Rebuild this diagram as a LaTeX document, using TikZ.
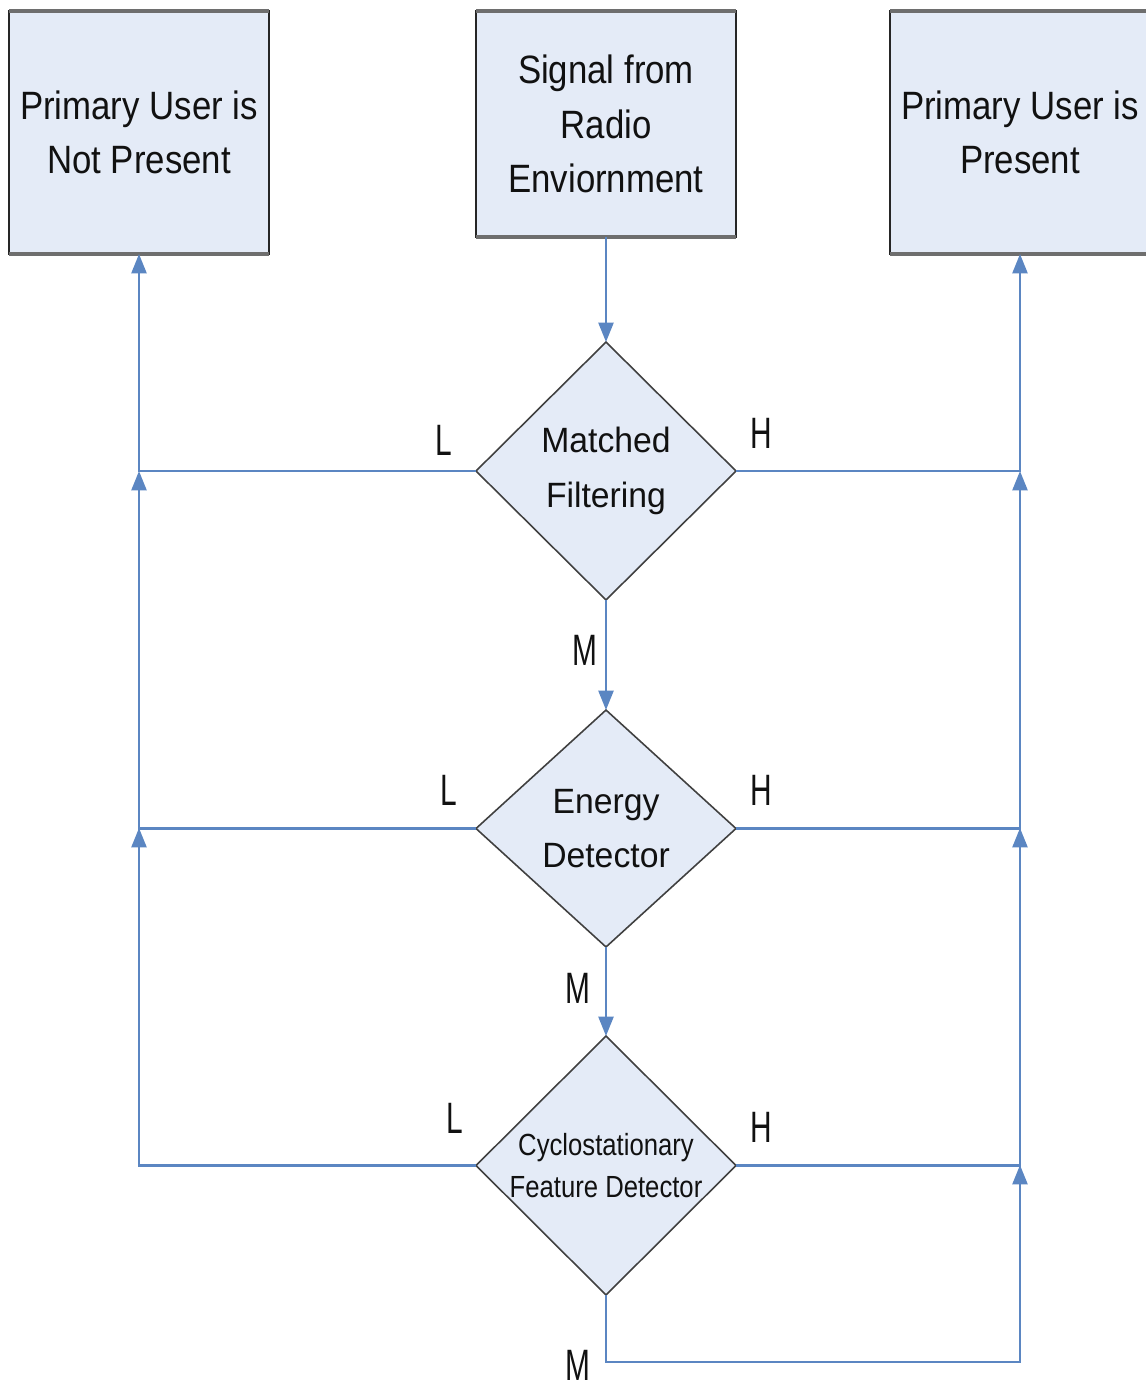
\documentclass[tikz,border=0pt]{standalone}
\usepackage{fontspec}
\setmainfont{Liberation Sans}
\newfontfamily\boxfont[FakeStretch=0.88]{Liberation Sans}
\newfontfamily\diafont[FakeStretch=0.96]{Liberation Sans}
\newfontfamily\cyclofont[FakeStretch=0.84]{Liberation Sans}
\newfontfamily\labfont[FakeStretch=0.68]{Liberation Sans}
\usetikzlibrary{shapes.geometric,arrows.meta}
\definecolor{fillblue}{HTML}{E4EBF7}
\definecolor{lineblue}{HTML}{5B86C2}
\definecolor{edgegray}{HTML}{6E6E6E}
\definecolor{textdark}{HTML}{111111}
\tikzset{
  termbox/.style={rectangle, draw=black!85, line width=0.9pt, fill=fillblue,
    minimum width=5.2cm, inner sep=0pt, outer sep=0pt, align=center,
    text=textdark, font=\boxfont\fontsize{22.5pt}{31pt}\selectfont},
  decision/.style={diamond, draw=black!75, line width=0.9pt, fill=fillblue,
    minimum width=5.2cm, inner sep=0pt, outer sep=0pt, align=center,
    text=textdark, font=\diafont\fontsize{20pt}{31pt}\selectfont},
  conn/.style={draw=lineblue, line width=1.4pt,
    -{Triangle[length=11pt,width=8.5pt,fill=lineblue]}},
  lab/.style={inner sep=0pt, text=textdark, font=\labfont\fontsize{25pt}{30pt}\selectfont},
  topedge/.style={draw=edgegray, line width=2.3pt}
}
\begin{document}
\begin{tikzpicture}[x=0.02cm,y=-0.02cm]
\useasboundingbox (0,0) rectangle (1146,1387);
\clip (0,0) rectangle (1146,1387);
\fill[white] (0,0) rectangle (1146,1387);

% top boxes
\node[termbox, minimum height=4.86cm] (notp) at (139,132.5) {Primary User is\\Not Present};
\node[termbox, minimum height=4.52cm] (sig) at (606,124) {Signal from\\Radio\\Enviornment};
\node[termbox, minimum height=4.86cm] (pres) at (1020,132.5) {Primary User is\\Present};
\foreach \b in {notp,sig,pres}{
  \draw[topedge] (\b.north west) -- (\b.north east);
  \draw[topedge] (\b.south west) -- (\b.south east);
}

% decisions
\node[decision, minimum height=5.16cm] (d1) at (606,471) {Matched\\Filtering};
\node[decision, minimum height=4.74cm] (d2) at (606,828.5) {Energy\\Detector};
\node[decision, minimum height=5.18cm, font=\cyclofont\fontsize{17.4pt}{24.4pt}\selectfont] (d3) at (606,1165.5) {Cyclostationary\\Feature Detector};

% junction coordinates
\coordinate (jl1) at (139,471);
\coordinate (jl2) at (139,828);
\coordinate (jr1) at (1020,471);
\coordinate (jr2) at (1020,828);
\coordinate (jr3) at (1020,1165);
\coordinate (mb) at (1020,1362);

% main flow
\draw[conn] (sig.south) -- (d1.north);
\draw[conn] (d1.south) -- (d2.north);
\draw[conn] (d2.south) -- (d3.north);

% L branches
\draw[conn] (d1.west) -| (notp.south);
\draw[conn] (d2.west) -| (jl1);
\draw[conn] (d3.west) -| (jl2);

% H branches
\draw[conn] (d1.east) -| (pres.south);
\draw[conn] (d2.east) -| (jr1);
\draw[conn] (d3.east) -| (jr2);

% M from last detector
\draw[conn] (d3.south) |- (mb) -- (jr3);

% labels
\node[lab] (l1) at (444,440) {L};
\node[lab] (l2) at (449,790) {L};
\node[lab] (l3) at (455,1118) {L};
\node[lab] (h1) at (761,433) {H};
\node[lab] (h2) at (761,790) {H};
\node[lab] (h3) at (761,1127) {H};
\node[lab] (m1) at (585,650) {M};
\node[lab] (m2) at (578,988) {M};
\node[lab] (m3) at (578,1365) {M};
\end{tikzpicture}
\end{document}
